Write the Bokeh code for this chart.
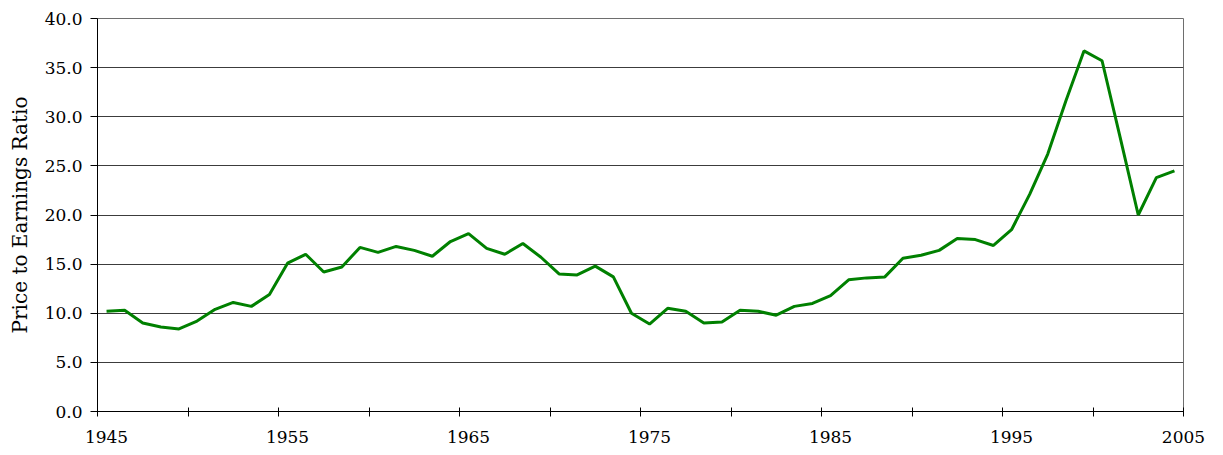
from bokeh.plotting import figure
from bokeh.models import FixedTicker, Range1d, PrintfTickFormatter, ColumnDataSource
from bokeh.embed import file_html
from bokeh.resources import INLINE

years = list(range(1945, 2005))
pe_ratio = [10.2, 10.3, 9.0, 8.6, 8.4, 9.2, 10.4, 11.1, 10.7, 11.9,
            15.1, 16.0, 14.2, 14.7, 16.7, 16.2, 16.8, 16.4, 15.8, 17.3,
            18.1, 16.6, 16.0, 17.1, 15.7, 14.0, 13.9, 14.8, 13.7, 10.0,
            8.9, 10.5, 10.2, 9.0, 9.1, 10.3, 10.2, 9.8, 10.7, 11.0,
            11.8, 13.4, 13.6, 13.7, 15.6, 15.9, 16.4, 17.6, 17.5, 16.9,
            18.5, 22.1, 26.2, 31.6, 36.7, 35.7, 27.9, 20.0, 23.8, 24.5]
x_labels = ["1945", "1955", "1965", "1975", "1985", "1995", "2005"]
y_ticks = [0, 5, 10, 15, 20, 25, 30, 35, 40]

FONT = "DejaVu Serif"

src = ColumnDataSource(dict(year=years, pe=pe_ratio))

x0 = years[0] - 0.5
x1 = years[-1] + 0.5
p = figure(width=1215, height=447, output_backend="svg", toolbar_location=None,
           x_range=Range1d(x0, x1), y_range=Range1d(0, 40),
           min_border_left=97, min_border_right=32, min_border_top=18, min_border_bottom=36,
           background_fill_color="white", border_fill_color="white")

p.line("year", "pe", source=src, line_color="#008000", line_width=3)

# x axis: category-style ticks at boundaries every 5 years, labels every 10
label_pos = [years[0] + 10 * i for i in range(6)] + [x1]
p.xaxis.ticker = FixedTicker(ticks=label_pos,
                             minor_ticks=[x0 + 5 * k for k in range(13)])
p.xaxis.major_label_overrides = {pos: lab for pos, lab in zip(label_pos, x_labels)}
p.xaxis.major_tick_in = 0
p.xaxis.major_tick_out = 0
p.xaxis.minor_tick_in = 4
p.xaxis.minor_tick_out = 5
p.xaxis.minor_tick_line_color = "black"
p.xaxis.axis_line_color = "black"
p.xaxis.major_label_standoff = 14
p.xaxis.major_label_text_font = FONT
p.xaxis.major_label_text_font_size = "17px"
p.xaxis.major_label_text_color = "black"

p.yaxis.ticker = FixedTicker(ticks=y_ticks)
p.yaxis.formatter = PrintfTickFormatter(format="%.1f")
p.yaxis.major_tick_in = 0
p.yaxis.major_tick_out = 7
p.yaxis.minor_tick_line_color = None
p.yaxis.axis_line_color = "black"
p.yaxis.major_tick_line_color = "black"
p.yaxis.major_label_standoff = 8
p.yaxis.major_label_text_font = FONT
p.yaxis.major_label_text_font_size = "17px"
p.yaxis.major_label_text_color = "black"
p.yaxis.axis_label = "Price to Earnings Ratio"
p.yaxis.axis_label_text_font = FONT
p.yaxis.axis_label_text_font_size = "20px"
p.yaxis.axis_label_text_font_style = "normal"
p.yaxis.axis_label_text_color = "black"
p.yaxis.axis_label_standoff = 10

p.xgrid.visible = False
p.ygrid.grid_line_color = "#3c3c3c"
p.ygrid.grid_line_width = 1
p.outline_line_color = "#6e6e6e"
p.outline_line_width = 1

open("out.html", "w").write(file_html(p, INLINE))
